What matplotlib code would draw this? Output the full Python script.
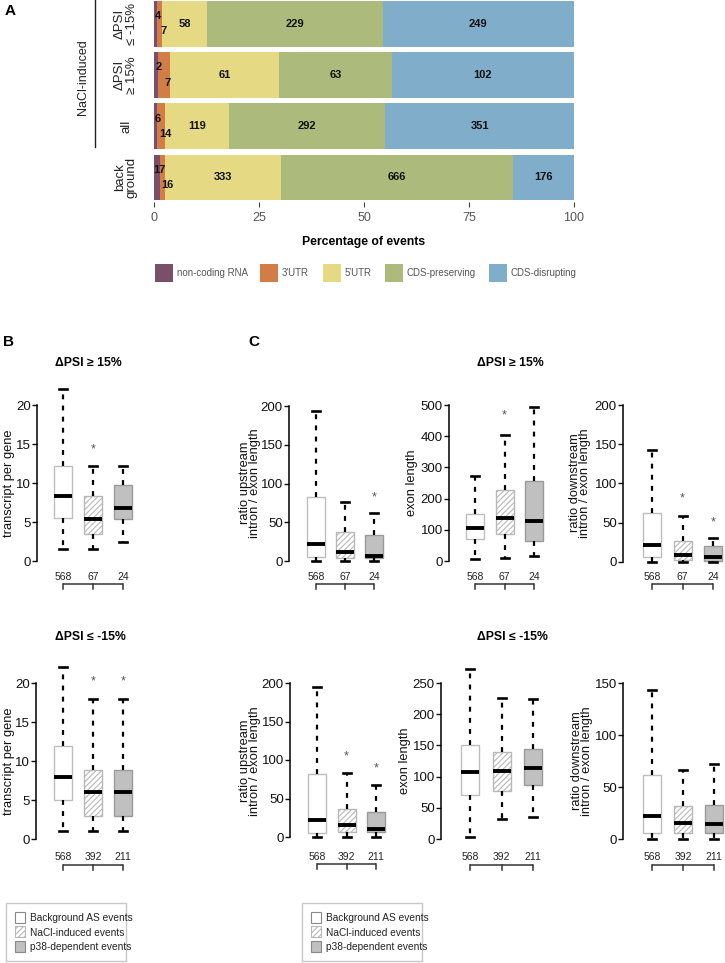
import matplotlib
matplotlib.use("Agg")
import matplotlib.pyplot as plt
from matplotlib.patches import Rectangle
import numpy as np

plt.rcParams['font.family'] = ['Liberation Sans', 'DejaVu Sans']
plt.rcParams['hatch.color'] = '#b8b8b8'
plt.rcParams['hatch.linewidth'] = 0.8

# ---------------- DATA ----------------
# Panel A: event counts per category
a_rows = ["back\nground", "all", "ΔPSI\n≥ 15%", "ΔPSI\n≤ -15%"]
a_classes = ["non-coding RNA", "3'UTR", "5'UTR", "CDS-preserving", "CDS-disrupting"]
a_colors = ["#7a4f6a", "#d27c46", "#e6d983", "#acbb7c", "#80aeca"]
a_noncoding = [17, 6, 2, 4]
a_utr3 = [16, 14, 7, 7]
a_utr5 = [333, 119, 61, 58]
a_cds_pres = [666, 292, 63, 229]
a_cds_dis = [176, 351, 102, 249]
a_ticks = [0, 25, 50, 75, 100]

# Panels B/C: box statistics (whislo, q1, med, q3, whishi) for the 3 groups
groups = ["Background AS events", "NaCl-induced events", "p38-dependent events"]
counts_up = ["568", "67", "24"]
counts_down = ["568", "392", "211"]

tpg_up = {"whislo": [1.5, 1.5, 2.5], "q1": [5.5, 3.4, 5.4], "med": [8.3, 5.4, 6.8],
          "q3": [12.2, 8.3, 9.7], "whishi": [22, 12.2, 12.2]}
tpg_up_star = [None, 14.3, None]
tpg_down = {"whislo": [1, 1, 1], "q1": [5, 2.9, 2.9], "med": [8, 6, 6],
            "q3": [11.9, 8.9, 8.9], "whishi": [22, 18, 18]}
tpg_down_star = [None, 20.2, 20.2]

upr_up = {"whislo": [0, 0, 0], "q1": [5, 4, 4], "med": [22, 11, 7],
          "q3": [82, 37, 34], "whishi": [193, 76, 62]}
upr_up_star = [None, None, 82]
exl_up = {"whislo": [5, 10, 15], "q1": [70, 88, 63], "med": [107, 138, 128],
          "q3": [150, 228, 256], "whishi": [272, 403, 492]}
exl_up_star = [None, 465, None]
dnr_up = {"whislo": [0, 0, 0], "q1": [6, 2, 1], "med": [22, 9, 7],
          "q3": [63, 27, 21], "whishi": [143, 58, 31]}
dnr_up_star = [None, 81, 51]

upr_down = {"whislo": [0, 0, 0], "q1": [5, 6, 6], "med": [22, 16, 11],
            "q3": [82, 37, 32], "whishi": [195, 83, 68]}
upr_down_star = [None, 105, 89]
exl_down = {"whislo": [3, 32, 35], "q1": [70, 77, 87], "med": [107, 109, 114],
            "q3": [150, 140, 145], "whishi": [273, 226, 225]}
exl_down_star = [None, None, None]
dnr_down = {"whislo": [0, 0, 0], "q1": [6, 6, 6], "med": [22, 15, 14],
            "q3": [62, 32, 33], "whishi": [143, 66, 72]}
dnr_down_star = [None, None, None]

# ---------------- FIGURE ----------------
W, H = 725, 963
fig = plt.figure(figsize=(W / 100, H / 100), dpi=100)


def px_ax(left, top, right, bottom, **kw):
    return fig.add_axes([left / W, 1 - bottom / H, (right - left) / W, (bottom - top) / H], **kw)


# overlay for annotations in pixel coordinates
ov = px_ax(0, 0, W, H, zorder=10)
ov.set_xlim(0, W)
ov.set_ylim(H, 0)
ov.axis('off')
ov.patch.set_alpha(0)

# ---------------- PANEL A ----------------
axA = px_ax(154, 0, 574, 202)
mat = np.array([a_noncoding, a_utr3, a_utr5, a_cds_pres, a_cds_dis], dtype=float)
pct = mat / mat.sum(axis=0) * 100
ypos = np.arange(len(a_rows))
left = np.zeros(len(a_rows))
for i in range(len(a_classes)):
    axA.barh(ypos, pct[i], left=left, height=0.89, color=a_colors[i], edgecolor='none')
    for r in range(len(a_rows)):
        cx = left[r] + pct[i][r] / 2
        cy = ypos[r]
        if i == 0:
            cx += 0.6
            cy += 0.15
        elif i == 1:
            cx += 1.0
            cy -= 0.15
        axA.text(cx, cy, str(int(mat[i][r])), ha='center', va='center',
                 fontsize=8, fontweight='bold', color='#111111')
    left += pct[i]
axA.set_xlim(0, 100)
axA.set_ylim(-0.48, 3.465)
axA.set_xticks(a_ticks)
axA.set_xticklabels([str(t) for t in a_ticks])
axA.set_yticks([])
for s in axA.spines.values():
    s.set_visible(False)
axA.tick_params(axis='x', length=3.5, width=0.8, color='#444444', labelcolor='#555555',
                labelsize=9, pad=4)
axA.set_xlabel("Percentage of events", fontsize=8.8, fontweight='bold', labelpad=8)
axA.patch.set_alpha(0)

# row labels
row_centers_px = [177.3, 126.2, 75.0, 23.8]
for lab, yc in zip(a_rows, row_centers_px):
    ov.text(126, yc, lab, rotation=90, ha='center', va='center', fontsize=9.5,
            color='#222222', linespacing=1.0, multialignment='center')
ov.plot([95, 95], [0, 147], color='#222222', lw=1.0)
ov.text(83, 77, "NaCl-induced", rotation=90, ha='center', va='center', fontsize=9, color='#222222')
ov.text(10, 11, "A", fontsize=11, fontweight='bold', ha='center', va='center')

# legend A
leg_x = [155, 260, 323, 385, 489]
for x, lab, col in zip(leg_x, a_classes, a_colors):
    ov.add_patch(Rectangle((x, 264), 18, 18, facecolor=col, edgecolor='none'))
    ov.text(x + 22, 273.5, lab, fontsize=7, color='#555555', va='center', ha='left')


# ---------------- BOX PANELS ----------------
def box_panel(spine, centers, y0, ytop, vmax, step, st, stars, counts, lab_off, br_off):
    spacing = (centers[2] - centers[0]) / 2.0
    xlo = 1 - (centers[0] - spine) / spacing
    xhi = 3.7
    right_px = centers[0] + (xhi - 1) * spacing
    scale = (y0 - ytop) / vmax
    ylo = -4 / scale
    yhi = vmax * 1.3
    top_px = y0 - yhi * scale
    bot_px = y0 - ylo * scale
    ax = px_ax(spine, top_px, right_px, bot_px)
    ax.patch.set_alpha(0)
    ax.set_xlim(xlo, xhi)
    ax.set_ylim(ylo, yhi)
    stats = []
    for k in range(3):
        stats.append(dict(whislo=st["whislo"][k], q1=st["q1"][k], med=st["med"][k],
                          q3=st["q3"][k], whishi=st["whishi"][k], fliers=[]))
    wbox = 18 / spacing
    wcap = 8 / spacing
    bp = ax.bxp(stats, positions=[1, 2, 3], widths=wbox, capwidths=wcap,
                patch_artist=True, showfliers=False,
                whiskerprops=dict(color='black', lw=1.6, linestyle=(0, (2.2, 2.8))),
                capprops=dict(color='black', lw=1.9),
                medianprops=dict(color='black', lw=2.8, solid_capstyle='butt'))
    faces = ['white', 'white', '#c0c0c0']
    edges = ['#bdbdbd', '#b8b8b8', '#9a9a9a']
    hatches = [None, '//////', None]
    for b, fc, ec, h in zip(bp['boxes'], faces, edges, hatches):
        b.set_facecolor(fc)
        b.set_edgecolor(ec)
        b.set_linewidth(1.0)
        if h:
            b.set_hatch(h)
    for k, s in enumerate(stars):
        if s is not None:
            ax.text(k + 1, s, "*", ha='center', va='center', fontsize=9, color='#555555')
    for k, c in enumerate(counts):
        ax.text(k + 1, -lab_off / scale, c, ha='center', va='center', fontsize=7.5,
                color='#222222', clip_on=False)
    yb = -br_off / scale
    yt = -(br_off + 4.5) / scale
    ax.plot([1, 3], [yb, yb], color='#333333', lw=1.1, clip_on=False, solid_capstyle='butt')
    for k in range(3):
        ax.plot([k + 1, k + 1], [yb, yt], color='#333333', lw=1.1, clip_on=False)
    ticks = np.arange(0, vmax + 0.001, step)
    ax.set_yticks(ticks)
    ax.set_yticklabels([str(int(t)) for t in ticks])
    ax.set_xticks([])
    for sname in ['top', 'right', 'bottom']:
        ax.spines[sname].set_visible(False)
    ax.spines['left'].set_bounds(0, vmax)
    ax.spines['left'].set_linewidth(1.1)
    ax.tick_params(axis='y', length=3.5, width=1.0, labelsize=9.5, pad=1.0, colors='#111111')
    return ax


# B
box_panel(37, (63, 93, 123), 561, 405, 20, 5, tpg_up, tpg_up_star, counts_up, 16, 23)
box_panel(36, (63, 93, 123), 839, 683, 20, 5, tpg_down, tpg_down_star, counts_down, 18, 26)
# C top
box_panel(289, (316, 345, 374), 561, 406, 200, 50, upr_up, upr_up_star, counts_up, 16, 23)
box_panel(449, (475, 504, 534), 561, 405, 500, 100, exl_up, exl_up_star, counts_up, 16, 23)
box_panel(623, (652, 683, 713), 562, 405, 200, 50, dnr_up, dnr_up_star, counts_up, 15, 22)
# C bottom
box_panel(290, (317, 347, 376), 837, 683, 200, 50, upr_down, upr_down_star, counts_down, 20, 27)
box_panel(441, (470, 502, 533), 839, 683, 250, 50, exl_down, exl_down_star, counts_down, 18, 26)
box_panel(623, (652, 685, 714), 839, 683, 150, 50, dnr_down, dnr_down_star, counts_down, 18, 26)

# labels, titles
ov.text(9, 342, "B", fontsize=11, fontweight='bold', ha='center', va='center')
ov.text(254, 342, "C", fontsize=11, fontweight='bold', ha='center', va='center')
ov.text(88, 363, "ΔPSI ≥ 15%", fontsize=8.8, fontweight='bold', ha='center', va='center')
ov.text(90, 637, "ΔPSI ≤ -15%", fontsize=8.8, fontweight='bold', ha='center', va='center')
ov.text(510, 363, "ΔPSI ≥ 15%", fontsize=8.8, fontweight='bold', ha='center', va='center')
ov.text(512, 637, "ΔPSI ≤ -15%", fontsize=8.8, fontweight='bold', ha='center', va='center')

ylabs = [(9, 483, "transcript per gene"), (9, 761, "transcript per gene"),
         (250, 483, "ratio upstream\nintron / exon length"),
         (412, 483, "exon length"),
         (580, 483, "ratio downstream\nintron / exon length"),
         (250, 761, "ratio upstream\nintron / exon length"),
         (405, 761, "exon length"),
         (582, 761, "ratio downstream\nintron / exon length")]
for x, y, t in ylabs:
    ov.text(x, y, t, rotation=90, ha='center', va='center', fontsize=9.3,
            color='#111111', linespacing=0.8, multialignment='center')

# legends for boxplots
leg_faces = ['white', 'white', '#c0c0c0']
leg_edges = ['#888888', '#b8b8b8', '#888888']
leg_hatch = [None, '//////', None]
for fx in (6, 302):
    ov.add_patch(Rectangle((fx, 903), 120, 58, facecolor='white', edgecolor='#c8c8c8', lw=1.0))
    for k, (g, fc, ec, h) in enumerate(zip(groups, leg_faces, leg_edges, leg_hatch)):
        yy = 912 + k * 14.5
        ov.add_patch(Rectangle((fx + 9, yy), 10.5, 11, facecolor=fc, edgecolor=ec, lw=0.8, hatch=h))
        ov.text(fx + 24, yy + 6, g, fontsize=7.3, color='#222222', va='center', ha='left')

fig.savefig("out.png", dpi=100)
